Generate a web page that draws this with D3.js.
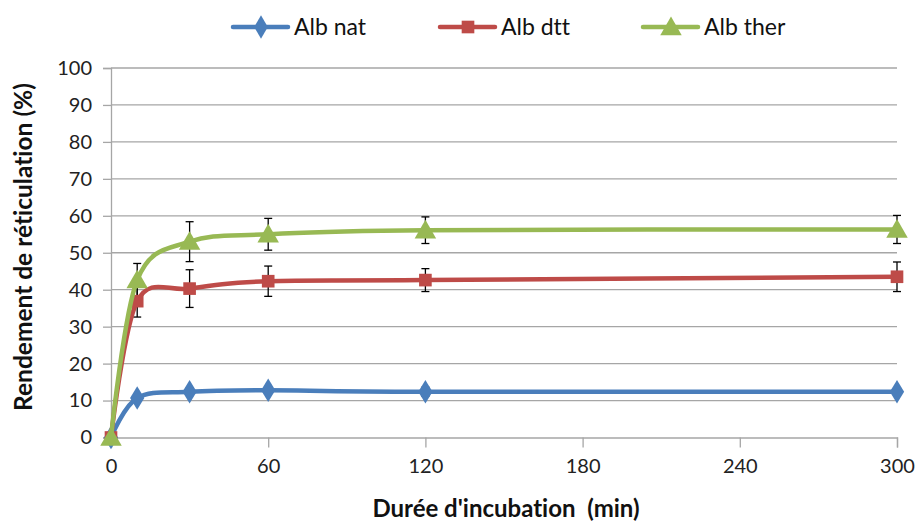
<!DOCTYPE html>
<html>
<head>
<meta charset="utf-8">
<script src="https://cdn.jsdelivr.net/npm/d3@7"></script>
<style>
  body { margin: 0; background: #fff; }
  svg { display: block; font-family: Lato, "Open Sans", sans-serif; }
  text { white-space: pre; font-variant-ligatures: none; font-feature-settings: "liga" 0, "dlig" 0; }
</style>
</head>
<body>
<svg id="chart" width="920" height="524"></svg>
<script>
// ---- data ----
const times = [0, 10, 30, 60, 120, 300];
const seriesNames = ["Alb nat", "Alb dtt", "Alb ther"];
const albNat = [0, 10.7, 12.4, 12.8, 12.4, 12.4];
const albNatErr = [0, 0.8, 1.0, 0.8, 1.2, 0.8];
const albDtt = [0, 36.9, 40.3, 42.3, 42.6, 43.5];
const albDttErr = [0, 4.3, 5.1, 4.1, 3.1, 4.0];
const albTher = [0, 42.6, 53.0, 55.0, 56.1, 56.3];
const albTherErr = [0, 4.5, 5.4, 4.3, 3.6, 3.8];
const xTicks = [0, 60, 120, 180, 240, 300];
const yTicks = [0, 10, 20, 30, 40, 50, 60, 70, 80, 90, 100];
const colors = ["#4A7EBB", "#BE4B48", "#98B954"];

const svg = d3.select("#chart");
const x = d3.scaleLinear().domain([0, 300]).range([111, 897]);
const y = d3.scaleLinear().domain([0, 100]).range([437.5, 68]);
const FONT = "Lato, 'Open Sans', sans-serif";

// gridlines
svg.append("g").selectAll("line").data(yTicks.filter(d => d > 0)).join("line")
  .attr("x1", x(0)).attr("x2", x(300))
  .attr("y1", d => y(d)).attr("y2", d => y(d))
  .attr("stroke", "#A6A6A6").attr("stroke-width", 1.3);

// y axis
const yAxis = d3.axisLeft(y).tickValues(yTicks).tickSize(8).tickPadding(11);
const gy = svg.append("g").attr("transform", `translate(${x(0)},0)`).call(yAxis);
gy.select(".domain").attr("stroke", "#A6A6A6").attr("stroke-width", 1.3);
gy.selectAll(".tick line").attr("stroke", "#A6A6A6").attr("stroke-width", 1.3);
gy.selectAll("text").attr("font-size", 20).attr("fill", "#222").attr("font-family", FONT);

// x axis
const xAxis = d3.axisBottom(x).tickValues(xTicks).tickSize(10).tickPadding(11);
const gx = svg.append("g").attr("transform", `translate(0,${y(0)})`).call(xAxis);
gx.select(".domain").attr("stroke", "#A6A6A6").attr("stroke-width", 1.3);
gx.selectAll(".tick line").attr("stroke", "#A6A6A6").attr("stroke-width", 1.3);
gx.selectAll("text").attr("font-size", 20).attr("fill", "#222").attr("font-family", FONT);

// axis titles
svg.append("text")
  .attr("transform", `translate(32,247) rotate(-90)`)
  .attr("text-anchor", "middle")
  .attr("font-family", FONT)
  .attr("font-weight", "bold").attr("font-size", 24.5).attr("fill", "#111")
  .text("Rendement de réticulation (%)");
svg.append("text")
  .attr("x", 506).attr("y", 517)
  .attr("text-anchor", "middle")
  .attr("font-family", FONT)
  .attr("font-weight", "bold").attr("font-size", 24).attr("fill", "#111")
  .text("Durée d'incubation  (min)");

const data = [
  { name: seriesNames[0], vals: albNat, err: albNatErr, color: colors[0], sym: d3.symbolDiamond, size: 160 },
  { name: seriesNames[1], vals: albDtt, err: albDttErr, color: colors[1], sym: d3.symbolSquare, size: 160 },
  { name: seriesNames[2], vals: albTher, err: albTherErr, color: colors[2], sym: d3.symbolTriangle, size: 200 }
];

const line = d3.line().x((d, i) => x(times[i])).y(d => y(d)).curve(d3.curveCardinal.tension(0));

// error bars (drawn behind markers)
data.forEach(s => {
  const g = svg.append("g").attr("stroke", "#000").attr("stroke-width", 1.3);
  s.vals.forEach((v, i) => {
    if (s.err[i] <= 0) return;
    const cx = x(times[i]);
    g.append("line").attr("x1", cx).attr("x2", cx).attr("y1", y(v - s.err[i])).attr("y2", y(v + s.err[i]));
    g.append("line").attr("x1", cx - 4).attr("x2", cx + 4).attr("y1", y(v - s.err[i])).attr("y2", y(v - s.err[i]));
    g.append("line").attr("x1", cx - 4).attr("x2", cx + 4).attr("y1", y(v + s.err[i])).attr("y2", y(v + s.err[i]));
  });
});

// lines and markers
data.forEach(s => {
  svg.append("path").datum(s.vals).attr("d", line)
    .attr("fill", "none").attr("stroke", s.color).attr("stroke-width", 4.5)
    .attr("stroke-linejoin", "round").attr("stroke-linecap", "round");
  svg.append("g").selectAll("path").data(s.vals).join("path")
    .attr("transform", (d, i) => {
      const dy = s.sym === d3.symbolTriangle ? 2 : 0;
      return `translate(${x(times[i])},${y(d) + dy})` + (s.sym === d3.symbolDiamond ? " scale(1.05,1)" : "");
    })
    .attr("d", d3.symbol().type(s.sym).size(s.size))
    .attr("fill", s.color);
});

// legend
const legendX = [233, 440, 643];
const legendY = 27;
data.forEach((s, i) => {
  const g = svg.append("g").attr("transform", `translate(${legendX[i]},${legendY})`);
  g.append("line").attr("x1", 0).attr("x2", 55).attr("y1", 0).attr("y2", 0)
    .attr("stroke", s.color).attr("stroke-width", 4.5).attr("stroke-linecap", "round");
  g.append("path").attr("transform", `translate(28,${s.sym === d3.symbolTriangle ? 2 : 0})`)
    .attr("d", d3.symbol().type(s.sym).size(s.size)).attr("fill", s.color);
  g.append("text").attr("x", 61).attr("y", 8)
    .attr("font-family", FONT)
    .attr("font-size", 23).attr("fill", "#111").text(s.name);
});
</script>
</body>
</html>
